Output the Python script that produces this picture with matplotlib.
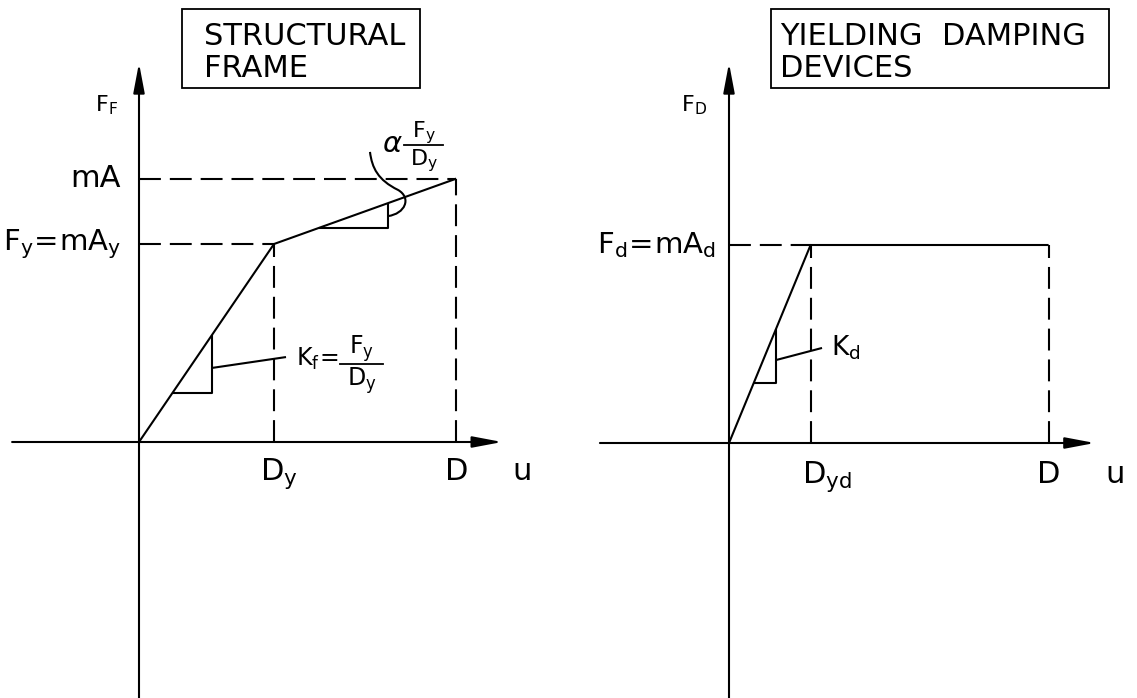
# Диаграммы "сила - перемещение": каркас и демпферы
import numpy as np
import matplotlib.pyplot as plt
from matplotlib.patches import Rectangle, PathPatch
from matplotlib.path import Path

plt.rcParams['font.family'] = ['DejaVu Sans']
plt.rcParams['mathtext.fontset'] = 'dejavusans'

# Данные (в долях Dy и Fy)
frame_u = [0.0, 1.0, 2.35]   # 0, Dy, D
frame_f = [0.0, 1.0, 1.33]   # 0, Fy, mA
damp_u = [0.0, 0.6, 2.35]    # 0, Dyd, D
damp_f = [0.0, 1.0, 1.0]     # 0, Fd, Fd
frame_title = ['STRUCTURAL', 'FRAME']
damp_title = ['YIELDING  DAMPING', 'DEVICES']

W, H = 1137, 698
fig = plt.figure(figsize=(W / 100, H / 100), dpi=100)
fig.patch.set_facecolor('white')

LW = 1.5
DASH = (0, (10.5, 4.3))
AX_ARROW = dict(arrowstyle='-|>,head_length=0.9,head_width=0.17', mutation_scale=20,
                color='black', lw=LW, shrinkA=0, shrinkB=0)


def make_ax(left_px, right_px, x0_px, y0_px, sx, sy):
    ax = fig.add_axes([left_px / W, 0, (right_px - left_px) / W, 1])
    ax.set_xlim((left_px - x0_px) / sx, (right_px - x0_px) / sx)
    ax.set_ylim((y0_px - H) / sy, y0_px / sy)
    ax.axis('off')
    return ax


def axes_arrows(ax, xmin, xmax, ytop):
    y0 = ax.get_ylim()[0]
    ax.annotate('', xy=(0, ytop), xytext=(0, y0), arrowprops=AX_ARROW)
    ax.annotate('', xy=(xmax, 0), xytext=(xmin, 0), arrowprops=AX_ARROW)


def kv(ax, x, y, **kw):
    ax.plot(x, y, color='black', lw=LW, solid_capstyle='butt', **kw)


def leader(ax, pts):
    codes = [Path.MOVETO] + [Path.CURVE4] * (len(pts) - 1)
    ax.add_patch(PathPatch(Path(pts, codes), fill=False, lw=LW, ec='black'))


def fraction(ax, xc, half, ybar, dnum, dden, fs):
    # дробь Fy/Dy: числитель, черта, знаменатель
    ax.text(xc, ybar + dnum, r'$\mathregular{F_y}$', fontsize=fs, ha='center', va='center')
    ax.plot([xc - half, xc + half], [ybar, ybar], color='black', lw=1.3)
    ax.text(xc, ybar - dden, r'$\mathregular{D_y}$', fontsize=fs, ha='center', va='center')


# ---------- левая панель ----------
ax1 = make_ax(0, 568, 139, 442, 135, 198)
Dy, D = frame_u[1], frame_u[2]
Fy, mA = frame_f[1], frame_f[2]
axes_arrows(ax1, -0.94, 2.69, 1.914)
kv(ax1, [0, Dy], [Fy, Fy], linestyle=DASH)
kv(ax1, [0, D], [mA, mA], linestyle=DASH)
kv(ax1, [Dy, Dy], [0, Fy], linestyle=DASH)
kv(ax1, [D, D], [0, mA], linestyle=DASH)
kv(ax1, frame_u, frame_f)

# треугольник жесткости Kf
t1 = 0.25
t2 = 0.54
kv(ax1, [t1, t2, t2], [t1 * Fy / Dy, t1 * Fy / Dy, t2 * Fy / Dy])
kv(ax1, [t2, 1.089], [0.374, 0.429])
ax1.text(1.163, 0.42, r'$\mathregular{K_f\!=}$', fontsize=17, ha='left', va='center')
fraction(ax1, 1.65, 0.16, 0.394, 0.075, 0.085, 17)

# треугольник alpha*Kf
slope2 = (mA - Fy) / (D - Dy)
a1 = Dy + 0.081 / slope2
a2 = 1.844
kv(ax1, [a1, a2, a2], [1.081, 1.081, Fy + slope2 * (a2 - Dy)])
leader(ax1, [(1.711, 1.465), (1.726, 1.384), (1.770, 1.323), (1.919, 1.273),
             (2.022, 1.232), (1.970, 1.152), (1.844, 1.141)])
ax1.text(1.80, 1.505, r'$\alpha$', fontsize=21, ha='left', va='center')
fraction(ax1, 2.11, 0.145, 1.50, 0.065, 0.08, 16)

ax1.text(-0.156, 1.70, r'$\mathregular{F_F}$', fontsize=16, ha='right', va='center')
ax1.text(-0.133, mA, 'mA', fontsize=22, ha='right', va='center')
ax1.text(-0.133, Fy, r'$\mathregular{F_y\!=\!mA_y}$', fontsize=21, ha='right', va='center')
ax1.text(Dy + 0.04, -0.192, r'$\mathregular{D_y}$', fontsize=22, ha='center', va='baseline')
ax1.text(D, -0.192, 'D', fontsize=22, ha='center', va='baseline')
ax1.text(2.837, -0.192, 'u', fontsize=22, ha='center', va='baseline')

# ---------- правая панель ----------
ax2 = make_ax(568, 1137, 729, 443, 136, 198)
Dyd, D2 = damp_u[1], damp_u[2]
Fd = damp_f[1]
axes_arrows(ax2, -0.949, 2.69, 1.919)
kv(ax2, [0, Dyd], [Fd, Fd], linestyle=DASH)
kv(ax2, [Dyd, Dyd], [0, Fd], linestyle=DASH)
kv(ax2, [D2, D2], [0, Fd], linestyle=DASH)
kv(ax2, damp_u, damp_f)

r1 = 0.182
r2 = 0.346
kv(ax2, [r1, r2, r2], [r1 * Fd / Dyd, r1 * Fd / Dyd, r2 * Fd / Dyd])
kv(ax2, [r2, 0.684], [0.419, 0.48])
ax2.text(0.75, 0.48, r'$\mathregular{K_d}$', fontsize=19, ha='left', va='center')

ax2.text(-0.162, 1.707, r'$\mathregular{F_D}$', fontsize=16, ha='right', va='center')
ax2.text(-0.096, Fd, r'$\mathregular{F_d\!=\!mA_d}$', fontsize=21, ha='right', va='center')
ax2.text(0.537, -0.20, r'$\mathregular{D_{yd}}$', fontsize=22, ha='left', va='baseline')
ax2.text(D2, -0.20, 'D', fontsize=22, ha='center', va='baseline')
ax2.text(2.84, -0.20, 'u', fontsize=22, ha='center', va='baseline')

# ---------- рамки с заголовками ----------
for (x0, x1, tx, title) in [(182, 420, 204, frame_title), (771, 1109, 780, damp_title)]:
    fig.patches.append(Rectangle((x0 / W, 1 - 88 / H), (x1 - x0) / W, 79 / H,
                                 transform=fig.transFigure, fill=False, ec='black', lw=1.3))
    for k, line in enumerate(title):
        fig.text(tx / W, 1 - (45 + 32 * k) / H, line, fontsize=22, ha='left', va='baseline')

fig.savefig('out.png', dpi=100)
